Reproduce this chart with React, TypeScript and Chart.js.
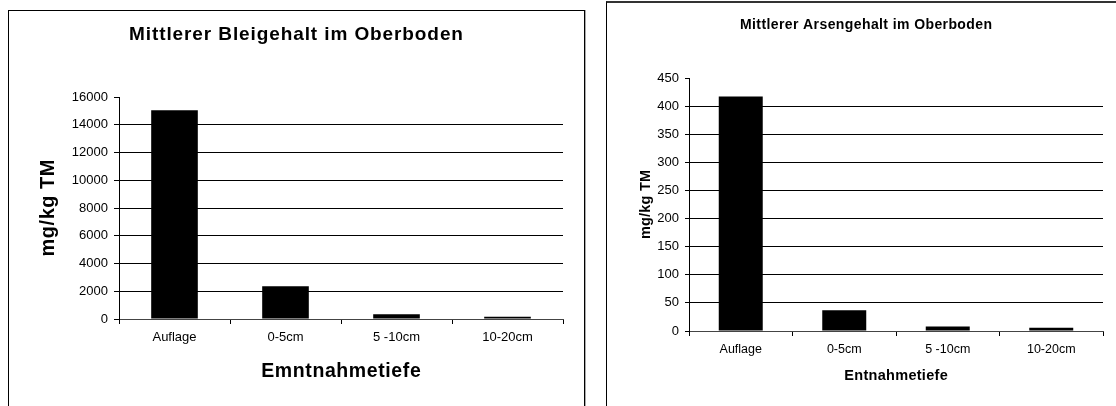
import React, { useEffect, useRef } from 'react';
import { Chart, registerables } from 'chart.js';

Chart.register(...registerables);

const categories = ['Auflage', '0-5cm', '5 -10cm', '10-20cm'];
const leadValues = [15050, 2360, 340, 160];
const arsenicValues = [417, 37, 8, 6];
const leadAxisMax = 16000;
const leadAxisStep = 2000;
const arsenicAxisMax = 450;
const arsenicAxisStep = 50;

const leadTitle = 'Mittlerer Bleigehalt im Oberboden';
const arsenicTitle = 'Mittlerer Arsengehalt im Oberboden';
const leadYTitle = 'mg/kg TM';
const arsenicYTitle = 'mg/kg TM';
const leadXTitle = 'Emntnahmetiefe';
const arsenicXTitle = 'Entnahmetiefe';

const FAMILY = '"Liberation Sans", Arial, Helvetica, sans-serif';

type TitleSpec = {
  text: string;
  size: number;
  spacing: number;
  pos: (c: any) => { x: number; y: number };
  rotate?: boolean;
};

function makeTitlesPlugin(items: TitleSpec[]) {
  return {
    id: 'spacedTitles',
    afterDraw(chart: any) {
      const ctx = chart.ctx as CanvasRenderingContext2D;
      for (const t of items) {
        const p = t.pos(chart);
        ctx.save();
        ctx.font = `bold ${t.size}px ${FAMILY}`;
        ctx.fillStyle = '#000';
        (ctx as any).letterSpacing = `${t.spacing}px`;
        ctx.textAlign = 'center';
        ctx.textBaseline = 'alphabetic';
        ctx.translate(p.x, p.y);
        if (t.rotate) ctx.rotate(-Math.PI / 2);
        ctx.fillText(t.text, t.spacing / 2, 0);
        ctx.restore();
      }
    },
  };
}

type ChartSpec = {
  values: number[];
  max: number;
  step: number;
  yWidth: number;
  xHeight: number;
  padding: { top: number; right: number; left: number; bottom: number };
  tickFont: number;
  xTickFont: number;
  yTickLength: number;
  barPct: number;
  titles: TitleSpec[];
};

function buildConfig(spec: ChartSpec): any {
  return {
    type: 'bar',
    data: {
      labels: categories,
      datasets: [
        {
          data: spec.values,
          backgroundColor: '#000',
          borderWidth: 0,
          barPercentage: spec.barPct,
          categoryPercentage: 1,
        },
      ],
    },
    options: {
      animation: false,
      responsive: false,
      maintainAspectRatio: false,
      layout: { padding: spec.padding },
      plugins: {
        legend: { display: false },
        tooltip: { enabled: false },
        title: { display: false },
      },
      scales: {
        x: {
          grid: {
            offset: true,
            drawOnChartArea: false,
            drawTicks: true,
            tickLength: 5,
            color: '#000',
            tickColor: '#000',
          },
          border: { color: '#444', width: 1 },
          ticks: {
            color: '#000',
            font: { family: FAMILY, size: spec.xTickFont },
            padding: 6,
            maxRotation: 0,
            autoSkip: false,
          },
          afterFit: (s: any) => {
            s.height = spec.xHeight;
          },
        },
        y: {
          min: 0,
          max: spec.max,
          ticks: {
            stepSize: spec.step,
            color: '#000',
            font: { family: FAMILY, size: spec.tickFont },
            padding: 6,
            callback: (v: any) => String(v),
          },
          grid: {
            color: (c: any) =>
              c.tick && (c.tick.value === spec.max || c.tick.value === 0) ? 'rgba(0,0,0,0)' : '#000',
            tickColor: '#000',
            tickLength: spec.yTickLength,
            lineWidth: 1,
          },
          border: { color: '#000', width: 1 },
          afterFit: (s: any) => {
            s.width = spec.yWidth;
          },
        },
      },
    },
    plugins: [makeTitlesPlugin(spec.titles)],
  };
}

const leadSpec: ChartSpec = {
  values: leadValues,
  max: leadAxisMax,
  step: leadAxisStep,
  yWidth: 111,
  xHeight: 87,
  padding: { top: 87, right: 21, left: 0, bottom: 0 },
  tickFont: 13,
  xTickFont: 13,
  yTickLength: 5,
  barPct: 0.42,
  titles: [
    { text: leadTitle, size: 19, spacing: 0.9, pos: (c) => ({ x: c.width / 2, y: 30 }) },
    {
      text: leadYTitle,
      size: 20,
      spacing: 0.5,
      rotate: true,
      pos: (c) => ({ x: 46, y: (c.chartArea.top + c.chartArea.bottom) / 2 }),
    },
    {
      text: leadXTitle,
      size: 19.5,
      spacing: 0.6,
      pos: (c) => ({ x: (c.chartArea.left + c.chartArea.right) / 2, y: 367 }),
    },
  ],
};

const arsenicSpec: ChartSpec = {
  values: arsenicValues,
  max: arsenicAxisMax,
  step: arsenicAxisStep,
  yWidth: 83,
  xHeight: 75,
  padding: { top: 76, right: 13, left: 0, bottom: 0 },
  tickFont: 13,
  xTickFont: 12.5,
  yTickLength: 4,
  barPct: 0.425,
  titles: [
    { text: arsenicTitle, size: 14, spacing: 0.4, pos: (c) => ({ x: 260, y: 26.5 }) },
    {
      text: arsenicYTitle,
      size: 14.5,
      spacing: 0.2,
      rotate: true,
      pos: (c) => ({ x: 44, y: (c.chartArea.top + c.chartArea.bottom) / 2 }),
    },
    {
      text: arsenicXTitle,
      size: 14.5,
      spacing: 0.3,
      pos: (c) => ({ x: (c.chartArea.left + c.chartArea.right) / 2, y: 377.5 }),
    },
  ],
};

function BarCanvas({ spec, left, top, width, height }: { spec: ChartSpec; left: number; top: number; width: number; height: number }) {
  const ref = useRef<HTMLCanvasElement | null>(null);
  useEffect(() => {
    if (!ref.current) return;
    const chart = new Chart(ref.current, buildConfig(spec));
    return () => chart.destroy();
  }, [spec]);
  return (
    <canvas
      ref={ref}
      width={width}
      height={height}
      style={{ position: 'absolute', left, top, width, height, display: 'block' }}
    />
  );
}

export default function App() {
  return (
    <div
      style={{
        position: 'absolute',
        left: 0,
        top: 0,
        width: 1116,
        height: 406,
        overflow: 'hidden',
        background: '#fff',
      }}
    >
      <BarCanvas spec={leadSpec} left={8} top={10} width={576} height={396} />
      <BarCanvas spec={arsenicSpec} left={606} top={2} width={510} height={404} />
      <div
        style={{
          position: 'absolute',
          left: 8,
          top: 10,
          width: 577,
          height: 420,
          boxSizing: 'border-box',
          border: '1px solid #000',
          boxShadow: '1px 0 0 #aaa',
          pointerEvents: 'none',
        }}
      />
      <div
        style={{
          position: 'absolute',
          left: 606,
          top: 1,
          width: 600,
          height: 420,
          boxSizing: 'border-box',
          borderTop: '2px solid #333',
          borderLeft: '1px solid #000',
          pointerEvents: 'none',
        }}
      />
    </div>
  );
}
